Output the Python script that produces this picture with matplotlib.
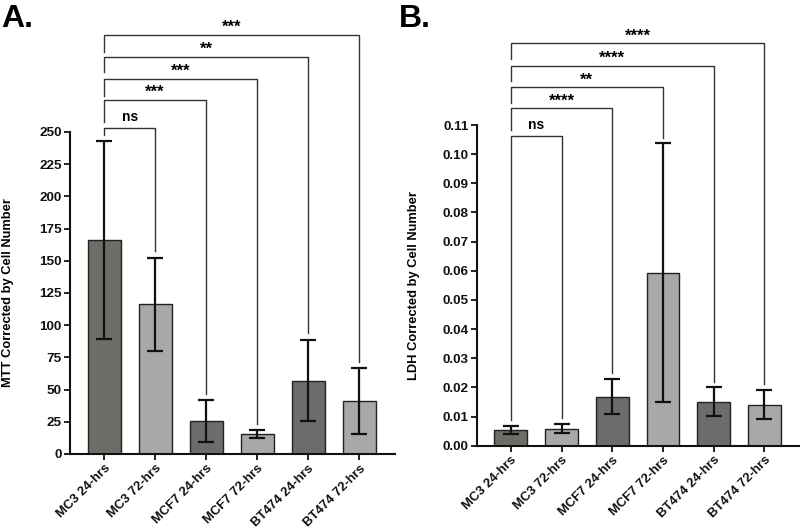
"""
Bar charts of MTT and LDH corrected by cell number, with significance brackets
"""
import numpy as np
import matplotlib
matplotlib.use('Agg')
import matplotlib.pyplot as plt

plt.rcParams['font.family'] = ['Liberation Sans', 'DejaVu Sans']
plt.rcParams['font.weight'] = 'bold'

groups = ['MC3 24-hrs', 'MC3 72-hrs', 'MCF7 24-hrs', 'MCF7 72-hrs', 'BT474 24-hrs', 'BT474 72-hrs']
bar_colors = ['#6b6d66', '#a7a8aa', '#6c6c6c', '#a8a8aa', '#6c6c6c', '#a8a8aa']

# panel A: MTT
mtt_mean = [166.0, 116.2, 25.4, 15.5, 57.0, 41.0]
mtt_upper = [243.0, 152.4, 41.9, 18.6, 88.8, 66.5]
mtt_lower = [89.3, 80.2, 9.6, 12.4, 25.9, 15.8]
mtt_sig = ['ns', '***', '***', '**', '***']

# panel B: LDH
ldh_mean = [0.0054, 0.0056, 0.0168, 0.0591, 0.0149, 0.0140]
ldh_upper = [0.0069, 0.0074, 0.0230, 0.1037, 0.0200, 0.0191]
ldh_lower = [0.0041, 0.0042, 0.0109, 0.0149, 0.0102, 0.0092]
ldh_sig = ['ns', '****', '**', '****', '****']


def draw_panel(ax, mean, upper, lower, sig, ylim, step, fmt, ylabel,
               line_y, left_drop, gap, ns_full, label_x):
    x = np.arange(len(groups))
    mean = np.array(mean)
    yerr = [mean - np.array(lower), np.array(upper) - mean]
    ax.bar(x, mean, width=0.65, color=bar_colors, edgecolor='#222222', linewidth=1.0, zorder=2)
    ax.errorbar(x, mean, yerr=yerr, fmt='none', ecolor='#111111', elinewidth=1.6,
                capsize=6, capthick=1.6, zorder=3)
    ax.set_ylim(*ylim)
    ax.set_xlim(-0.67, 5.7)
    ticks = np.arange(0, ylim[1] + step / 2, step)
    ax.set_yticks(ticks)
    ax.set_yticklabels([fmt % v for v in ticks])
    ax.set_xticks(x)
    ax.set_xticklabels(groups, rotation=45, ha='right', rotation_mode='anchor')
    ax.set_ylabel(ylabel, fontsize=9.3, fontweight='bold')
    ax.yaxis.set_label_coords(label_x, 0.5)
    ax.tick_params(axis='y', labelsize=9.7, pad=2)
    ax.tick_params(axis='x', labelsize=9.4, pad=2)
    ax.tick_params(axis='both', width=1.3, length=4, direction='out', colors='#111111')
    for s in ['top', 'right']:
        ax.spines[s].set_visible(False)
    for s in ['left', 'bottom']:
        ax.spines[s].set_linewidth(1.5)
        ax.spines[s].set_color('#111111')

    # significance brackets from the first group to each of the others
    for i, label in enumerate(sig):
        j = i + 1
        y = line_y[i]
        right_end = upper[j] + gap
        if i == 0 and ns_full:
            left_end = upper[0] + gap
        else:
            left_end = y - left_drop[i]
        ax.plot([0, 0, j, j], [left_end, y, y, right_end], color='#333333', lw=1.0,
                clip_on=False, zorder=4)
        if label == 'ns':
            ax.annotate(label, (j / 2, y), xytext=(0, 3), textcoords='offset points',
                        ha='center', va='bottom', fontsize=10, fontweight='bold',
                        annotation_clip=False)
        else:
            ax.annotate(label, (j / 2, y), xytext=(0, 0), textcoords='offset points',
                        ha='center', va='bottom', fontsize=12, fontweight='bold',
                        annotation_clip=False)


fig = plt.figure(figsize=(8, 5.29), dpi=100)
ax_a = fig.add_axes([0.0875, 0.1418, 0.406, 0.6087])
ax_b = fig.add_axes([0.596, 0.1575, 0.404, 0.6062])

draw_panel(ax_a, mtt_mean, mtt_upper, mtt_lower, mtt_sig, (0, 250), 25, '%d',
           'MTT Corrected by Cell Number',
           line_y=[253.3, 274.8, 291.0, 308.2, 325.5],
           left_drop=[5.5, 17.0, 13.0, 11.5, 13.5], gap=5.0, ns_full=False,
           label_x=-0.172)
draw_panel(ax_b, ldh_mean, ldh_upper, ldh_lower, ldh_sig, (0, 0.11), 0.01, '%.2f',
           'LDH Corrected by Cell Number',
           line_y=[0.1061, 0.1157, 0.1229, 0.1304, 0.138],
           left_drop=[0.0, 0.0074, 0.0052, 0.0052, 0.0055], gap=0.002, ns_full=True,
           label_x=-0.176)

fig.text(0.002, 0.993, 'A.', fontsize=23, fontweight='bold', ha='left', va='top')
fig.text(0.499, 0.993, 'B.', fontsize=23, fontweight='bold', ha='left', va='top')

fig.savefig('out.png', dpi=100)
